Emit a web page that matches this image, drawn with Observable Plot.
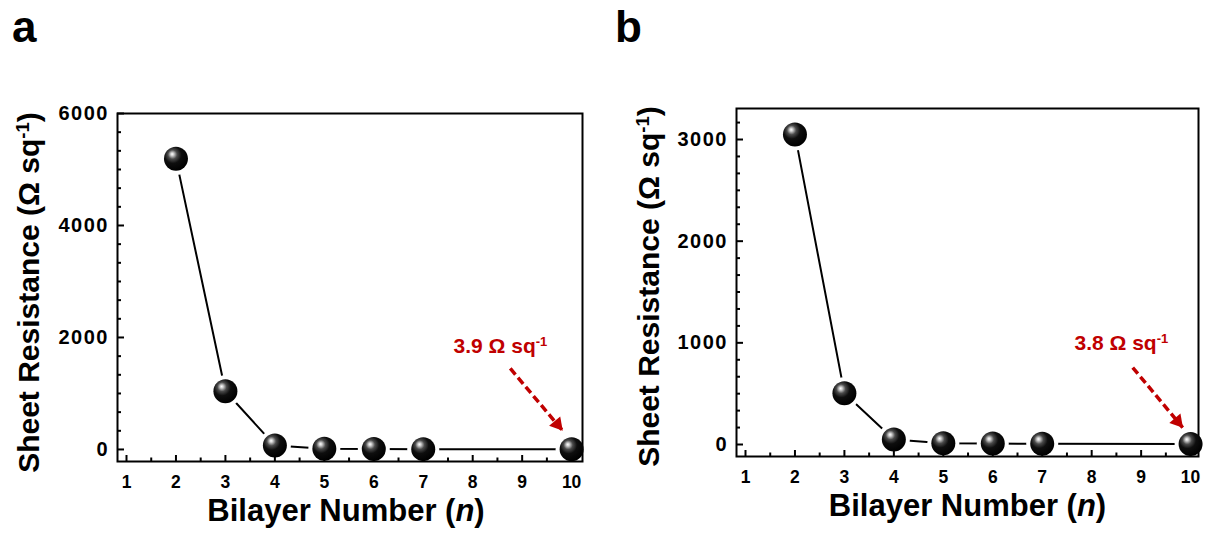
<!DOCTYPE html>
<html>
<head>
<meta charset="utf-8">
<script src="https://cdn.jsdelivr.net/npm/d3@7"></script>
<script src="https://cdn.jsdelivr.net/npm/@observablehq/plot@0.6"></script>
<style>
  body { margin: 0; background: #fff; }
  #wrap { position: relative; width: 1205px; height: 534px; font-family: "Liberation Sans", Arial, sans-serif; }
  .panel { position: absolute; top: 0; }
  .tag { position: absolute; font-weight: bold; font-size: 44px; line-height: 1; color: #000; }
  g[aria-label="y-axis tick label"] text { font-size: 20px !important; letter-spacing: 1.5px; }
  g[aria-label="x-axis tick label"] text { font-size: 17.5px !important; }
  g[aria-label="y-label"] text { letter-spacing: 1.4px; }
  g[aria-label="x-label"] text { letter-spacing: 2px; }
</style>
</head>
<body>
<div id="wrap">
  <div class="tag" style="left:12px;top:5px">a</div>
  <div class="tag" style="left:615px;top:5px">b</div>
  <div id="pa" class="panel" style="left:0px"></div>
  <div id="pb" class="panel" style="left:603px"></div>
</div>
<script>
// Sheet resistance versus number of deposited bilayers
const bilayers = [2, 3, 4, 5, 6, 7, 10];
const resistanceA = [5190, 1040, 70, 12, 8, 6, 3.9];
const resistanceB = [3050, 505, 50, 12, 9, 7, 3.8];

// Axis ticks
const xTicks = [1, 2, 3, 4, 5, 6, 7, 8, 9, 10];
const xMinor = [1.5, 2.5, 3.5, 4.5, 5.5, 6.5, 7.5, 8.5, 9.5];
const yTicksA = [0, 2000, 4000, 6000];
const yTicksB = [0, 1000, 2000, 3000];

// Text
const xTitle = "Bilayer Number (n)";
const yTitle = "Sheet Resistance (Ω sq⁻¹)";

// Callouts for the last point: label position, arrow start and arrow tip
const noteA = [{label: "3.9 Ω sq⁻¹", lx: 8.56, ly: 1714, x1: 8.76, y1: 1446, x2: 9.815, y2: 339}];
const noteB = [{label: "3.8 Ω sq⁻¹", lx: 8.60, ly: 934, x1: 8.83, y1: 757, x2: 9.84, y2: 167}];

const RED = "#c00000";
const FONT = "Liberation Sans, Arial, sans-serif";

// Rebuild a text element so "(n)" is italic and "⁻¹" is a real superscript
function richText(t) {
  const s = t.textContent;
  if (!s.includes("⁻¹") && !s.includes("(n)")) return;
  t.textContent = "";
  const ns = "http://www.w3.org/2000/svg";
  for (const part of s.split(/(⁻¹|\(n\))/)) {
    if (!part) continue;
    if (part === "⁻¹") {
      const sp = document.createElementNS(ns, "tspan");
      sp.setAttribute("baseline-shift", "super");
      sp.setAttribute("font-size", "62%");
      sp.textContent = "-1";
      t.appendChild(sp);
    } else if (part === "(n)") {
      t.appendChild(document.createTextNode("("));
      const it = document.createElementNS(ns, "tspan");
      it.setAttribute("font-style", "italic");
      it.textContent = "n";
      t.appendChild(it);
      t.appendChild(document.createTextNode(")"));
    } else {
      t.appendChild(document.createTextNode(part));
    }
  }
}

function sphereDefs(svg, id) {
  const ns = "http://www.w3.org/2000/svg";
  const defs = document.createElementNS(ns, "defs");
  defs.innerHTML = `
    <radialGradient id="${id}" cx="0.4" cy="0.36" r="0.64" fx="0.34" fy="0.3">
      <stop offset="0" stop-color="#ffffff"/>
      <stop offset="0.1" stop-color="#d0d0d0"/>
      <stop offset="0.3" stop-color="#4a4a4a"/>
      <stop offset="0.55" stop-color="#0e0e0e"/>
      <stop offset="1" stop-color="#000000"/>
    </radialGradient>`;
  svg.insertBefore(defs, svg.firstChild);
}

function panel({el, id, width, margin, xDomain, yDomain, values, yTicks, yMinor, note, yLabelDx, yLabelDy, xLabelDx}) {
  const data = bilayers.map((n, i) => ({n, r: values[i]}));
  const svg = Plot.plot({
    width, height: 534,
    marginLeft: margin[0], marginRight: margin[1], marginTop: margin[2], marginBottom: margin[3],
    x: {domain: xDomain},
    y: {domain: yDomain},
    style: {fontFamily: FONT, fontWeight: "bold", color: "#000", background: "transparent", overflow: "visible"},
    marks: [
      // connecting line with small gaps at each sphere
      Plot.line(data, {x: "n", y: "r", stroke: "#000", strokeWidth: 2}),
      Plot.dot(data, {x: "n", y: "r", r: 16, fill: "#fff"}),
      // inward ticks
      Plot.axisX({ticks: xTicks, tickSize: -6, strokeWidth: 2, tickFormat: () => "", label: null}),
      Plot.axisX({ticks: xMinor, tickSize: -3.5, strokeWidth: 2, tickFormat: () => "", label: null}),
      Plot.axisY({ticks: yTicks, tickSize: -7, strokeWidth: 2, tickFormat: () => "", label: null}),
      Plot.axisY({ticks: yMinor, tickSize: -4, strokeWidth: 2, tickFormat: () => "", label: null}),
      // tick labels
      Plot.axisX({ticks: xTicks, tickSize: 0, tickPadding: 14, fontSize: 17.5, tickFormat: d => String(d), label: null}),
      Plot.axisY({ticks: yTicks, tickSize: 0, tickPadding: 8.5, fontSize: 20, tickFormat: d => String(d), label: null}),
      Plot.frame({stroke: "#000", strokeWidth: 2}),
      // spheres
      Plot.dot(data, {x: "n", y: "r", r: 12, fill: `url(#${id})`}),
      // callout arrow and value
      Plot.link(note, {x1: "x1", y1: "y1", x2: "x2", y2: "y2", stroke: RED, strokeWidth: 3.5, strokeDasharray: "8,4"}),
      Plot.dot(note, {x: "x2", y: "y2", symbol: "triangle", r: 5.4, rotate: 140, fill: RED, dx: -5.1, dy: -6.1}),
      Plot.text(note, {x: "lx", y: "ly", text: "label", fill: RED, fontSize: 21, fontWeight: "bold", lineAnchor: "bottom", textAnchor: "middle", ariaLabel: "note"}),
      // axis titles
      Plot.text([xTitle], {frameAnchor: "bottom", dx: xLabelDx, dy: 59, lineAnchor: "bottom", textAnchor: "middle", fontSize: 31, fontWeight: "bold", ariaLabel: "x-label"}),
      Plot.text([yTitle], {frameAnchor: "left", dx: yLabelDx, dy: yLabelDy, rotate: -90, lineAnchor: "bottom", textAnchor: "middle", fontSize: 30, fontWeight: "bold", ariaLabel: "y-label"})
    ]
  });
  sphereDefs(svg, id);
  svg.querySelectorAll("text").forEach(richText);
  document.getElementById(el).appendChild(svg);
}

panel({
  el: "pa", id: "sphereA", width: 603, margin: [117, 21, 113, 73],
  xDomain: [0.818, 10.22], yDomain: [-215, 6000],
  values: resistanceA, yTicks: yTicksA,
  yMinor: d3.range(0, 6000, 1000 / 3).filter((v, i) => i % 6 !== 0),
  note: noteA, yLabelDx: -79, yLabelDy: 5, xLabelDx: -4
});

panel({
  el: "pb", id: "sphereB", width: 602, margin: [133, 7, 108, 78],
  xDomain: [0.818, 10.16], yDomain: [-118, 3305],
  values: resistanceB, yTicks: yTicksB,
  yMinor: d3.range(0, 3300, 1000 / 6).filter((v, i) => i % 6 !== 0),
  note: noteB, yLabelDx: -78, yLabelDy: 4, xLabelDx: 0
});
</script>
</body>
</html>
